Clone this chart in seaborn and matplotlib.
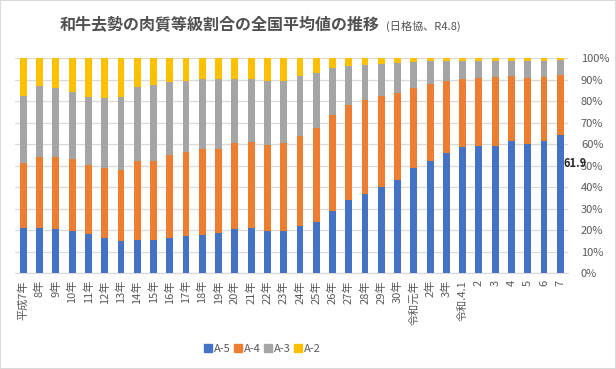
import numpy as np
import pandas as pd
import matplotlib
matplotlib.use("Agg")
import matplotlib.pyplot as plt
from matplotlib.patches import Rectangle
import seaborn as sns

# data (% share of each grade)
labels = ["平成7年", "8年", "9年", "10年", "11年", "12年", "13年", "14年", "15年",
          "16年", "17年", "18年", "19年", "20年", "21年", "22年", "23年", "24年",
          "25年", "26年", "27年", "28年", "29年", "30年", "令和元年", "2年", "3年",
          "令和.4.1", "2", "3", "4", "5", "6", "7"]
a5 = [20.8, 21.1, 20.5, 19.6, 18.0, 16.5, 14.9, 15.5, 15.2, 16.5, 17.4, 17.9,
      18.6, 20.5, 21.1, 19.6, 19.6, 21.7, 23.8, 28.9, 34.0, 37.0, 40.2, 43.2,
      48.9, 52.2, 55.7, 58.5, 59.3, 59.3, 61.5, 59.9, 61.5, 64.1]
a4 = [30.3, 33.1, 33.7, 33.5, 32.2, 32.6, 33.1, 36.8, 37.1, 38.5, 39.0, 39.9,
      39.2, 40.2, 39.9, 39.9, 40.8, 42.3, 43.7, 44.7, 44.3, 43.7, 42.4, 40.8,
      37.4, 35.7, 33.7, 31.9, 31.5, 31.8, 30.4, 30.9, 29.6, 28.3]
a3 = [31.4, 32.9, 32.1, 31.2, 31.9, 32.4, 34.1, 34.3, 35.3, 34.0, 33.2, 32.4,
      32.4, 29.7, 29.4, 29.8, 29.2, 27.8, 25.7, 21.7, 18.3, 16.3, 14.9, 13.8,
      11.8, 10.9, 9.4, 8.4, 8.0, 7.8, 7.0, 8.1, 7.8, 6.7]
a2 = [17.5, 12.9, 13.7, 15.7, 17.9, 18.5, 17.9, 13.4, 12.4, 11.0, 10.4, 9.8,
      9.8, 9.6, 9.6, 10.7, 10.4, 8.2, 6.8, 4.7, 3.4, 3.0, 2.5, 2.2,
      1.9, 1.2, 1.2, 1.2, 1.2, 1.1, 1.1, 1.1, 1.1, 0.9]
grades = ["A-5", "A-4", "A-3", "A-2"]
colors = ["#4472C4", "#ED7D31", "#A5A5A5", "#FFC000"]
last_label = "61.9"

sns.set_style("white")
plt.rcParams["font.family"] = ["Noto Sans CJK JP", "DejaVu Sans"]

df = pd.DataFrame({"x": np.arange(len(labels)), "A-5": a5, "A-4": a4, "A-3": a3, "A-2": a2})
cum = df[grades].cumsum(axis=1)

fig = plt.figure(figsize=(6.16, 3.69), dpi=100)
ax = fig.add_axes([0.0247, 0.260, 0.898, 0.582])

# stacked bars: draw cumulative totals from the top layer down
for g, c in reversed(list(zip(grades, colors))):
    sns.barplot(x=df["x"], y=cum[g], color=c, width=0.42, ax=ax,
                saturation=1, linewidth=0, zorder=3)

ax.set_xlim(-0.5, len(labels) - 0.5)
ax.set_ylim(0, 100)
ax.set_yticks(np.arange(0, 101, 10))
ax.set_yticklabels([f"{v}%" for v in range(0, 101, 10)])
ax.yaxis.tick_right()
ax.grid(axis="y", color="#d9d9d9", linewidth=0.9, zorder=0)
ax.set_axisbelow(True)
ax.set_xticks(df["x"])
ax.set_xticklabels(labels, rotation=90, fontsize=8, color="#595959")
ax.tick_params(axis="x", length=0, pad=5)
ax.tick_params(axis="y", length=0, pad=9, labelsize=8, labelcolor="#595959")
for lbl in ax.get_yticklabels():
    lbl.set_horizontalalignment("left")
ax.set_xlabel("")
ax.set_ylabel("")
for s in ["top", "left", "right"]:
    ax.spines[s].set_visible(False)
ax.spines["bottom"].set_color("#d9d9d9")
ax.spines["bottom"].set_linewidth(0.9)

ax.text(len(labels) - 1 + 0.22, 51.2, last_label, ha="left", va="center",
        fontsize=8, fontweight="bold", color="#262626", clip_on=False, zorder=5)

handles = [plt.Rectangle((0, 0), 1, 1, color=c) for c in colors]
fig.legend(handles, grades, loc="center", bbox_to_anchor=(0.426, 0.054), ncol=4,
           frameon=False, fontsize=8, handlelength=0.7, handleheight=0.7,
           handletextpad=0.15, columnspacing=0.35, labelcolor="#595959")

fig.text(60 / 616, 0.932, "和牛去勢の肉質等級割合の全国平均値の推移", ha="left", va="center",
         fontsize=11.5, fontweight="bold", color="#505050")
fig.text(386 / 616, 0.928, "(日格協、R4.8)", ha="left", va="center",
         fontsize=8, color="#505050")

fig.patches.append(Rectangle((0, 0), 1, 1, transform=fig.transFigure, fill=False,
                             edgecolor="#d9d9d9", linewidth=1.5))

fig.savefig("out.png", dpi=100)
